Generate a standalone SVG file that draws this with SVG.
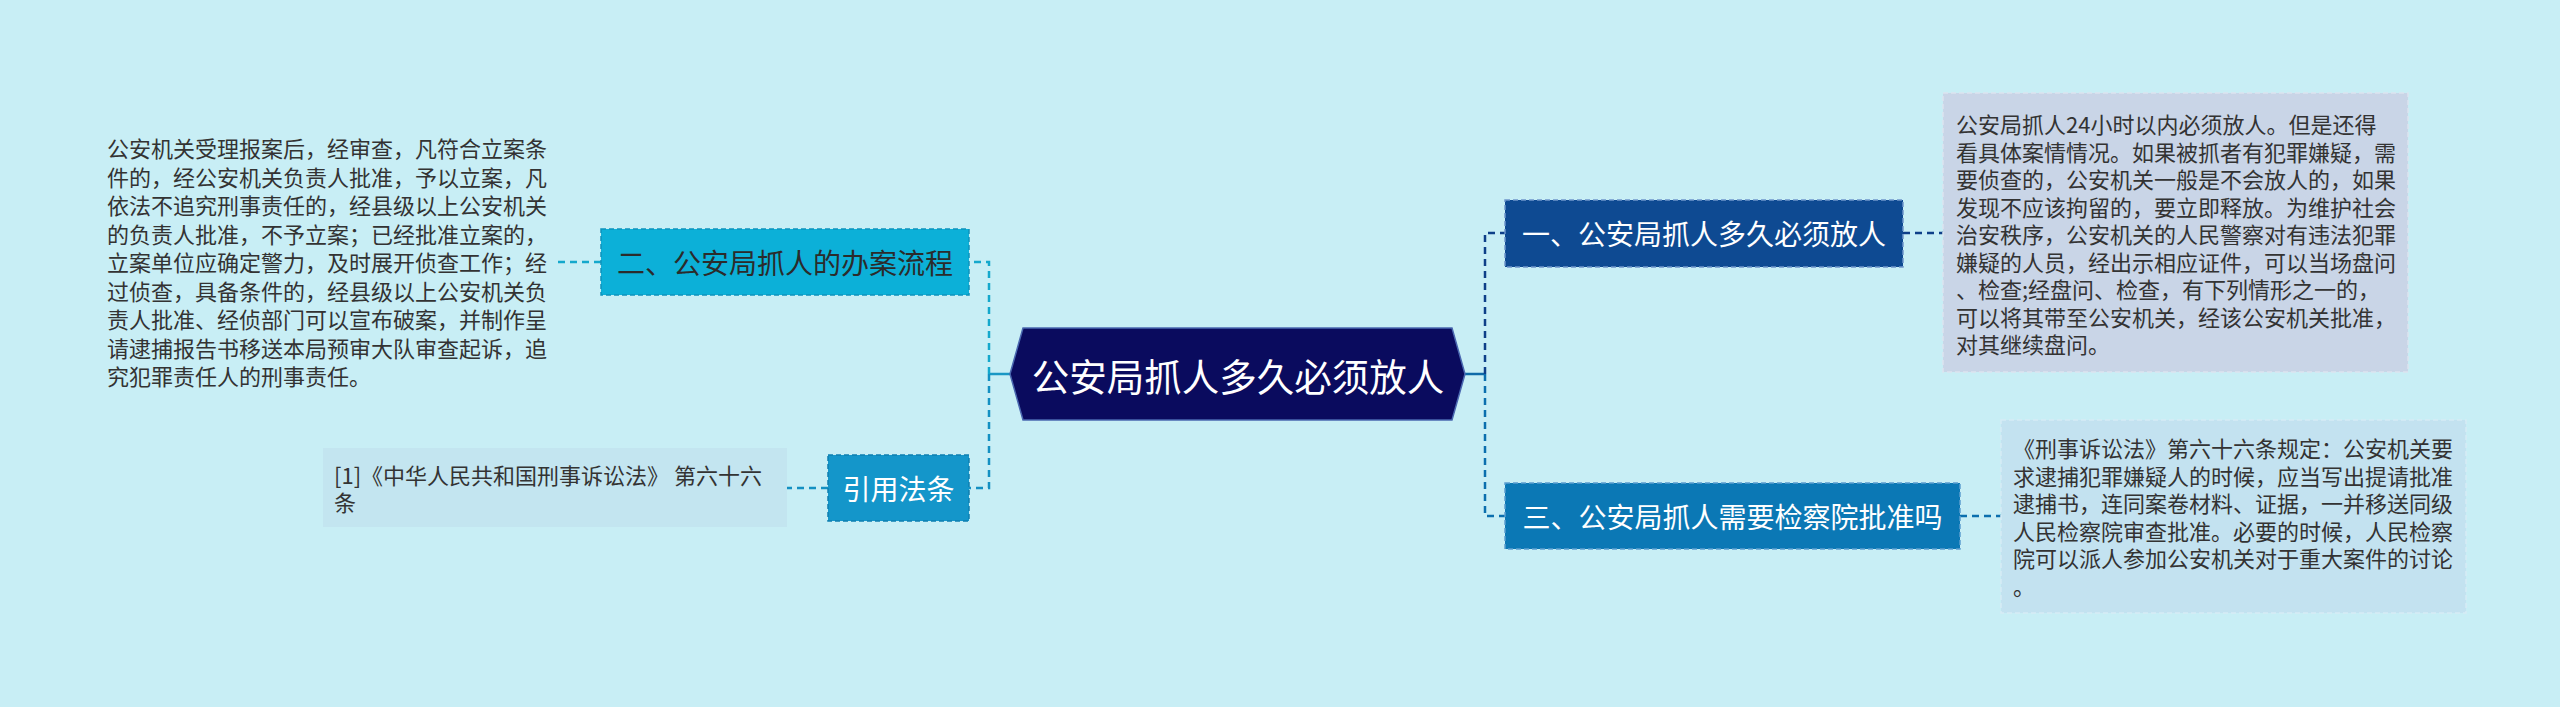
<svg xmlns="http://www.w3.org/2000/svg" width="2560" height="707" viewBox="0 0 2560 707">
<style>
.t{font-family:"Noto Sans CJK SC","Noto Sans",sans-serif;dominant-baseline:central}
.body{font-size:22px;fill:#333333}
.br{font-size:28px;text-anchor:middle}
.dash{fill:none;stroke-width:2.5;stroke-dasharray:7 5}
.solid{fill:none;stroke-width:2.5}
.bx{stroke-width:1.5;stroke-dasharray:5 3}
</style>
<rect x="0" y="0" width="2560" height="707" fill="#C8EEF5"/>
<g id="connectors">
<path class="solid" d="M1010,374 H989" stroke="#1A97C4"/>
<path class="dash" d="M989,374 V262 H969" stroke="#14A8CC"/>
<path class="dash" d="M989,374 V488 H969" stroke="#1390C2"/>
<path class="dash" d="M601,262 H556" stroke="#14A8CC"/>
<path class="dash" d="M828,488 H787" stroke="#1390C2"/>
<path class="solid" d="M1465,374 H1485" stroke="#0F6AA8"/>
<path class="dash" d="M1485,374 V233 H1505" stroke="#0E3F88"/>
<path class="dash" d="M1485,374 V516 H1505" stroke="#0B6FAE"/>
<path class="dash" d="M1903,233 H1943" stroke="#0E3F88"/>
<path class="dash" d="M1960,516 H2001" stroke="#0B6FAE"/>
</g>
<g id="root">
<polygon points="1010,374 1023,328 1452,328 1465,374 1452,420 1023,420" fill="#0A0B5E" stroke="#4A68B0" stroke-width="1.5"/>
<text class="t" x="1238" y="374" font-size="37.5" fill="#FFFFFF" text-anchor="middle">公安局抓人多久必须放人</text>
</g>
<g id="n2">
<rect class="bx" x="601" y="229" width="368" height="66" fill="#0CB0D8" stroke="#0E93BC"/>
<text class="t br" x="785" y="262" fill="#2B2B2B">二、公安局抓人的办案流程</text>
</g>
<g id="n2text">
<text class="t body" x="107" y="147">公安机关受理报案后，经审查，凡符合立案条</text>
<text class="t body" x="107" y="175.5">件的，经公安机关负责人批准，予以立案，凡</text>
<text class="t body" x="107" y="204">依法不追究刑事责任的，经县级以上公安机关</text>
<text class="t body" x="107" y="232.5">的负责人批准，不予立案；已经批准立案的，</text>
<text class="t body" x="107" y="261">立案单位应确定警力，及时展开侦查工作；经</text>
<text class="t body" x="107" y="289.5">过侦查，具备条件的，经县级以上公安机关负</text>
<text class="t body" x="107" y="318">责人批准、经侦部门可以宣布破案，并制作呈</text>
<text class="t body" x="107" y="346.5">请逮捕报告书移送本局预审大队审查起诉，追</text>
<text class="t body" x="107" y="375">究犯罪责任人的刑事责任。</text>
</g>
<g id="ref">
<rect class="bx" x="828" y="455" width="141" height="66" fill="#1496CA" stroke="#0E7FB0"/>
<text class="t br" x="898.5" y="488" fill="#FFFFFF">引用法条</text>
</g>
<g id="reftext">
<rect x="323" y="448" width="464" height="79" fill="#C3E5F0"/>
<text class="t body" x="334" y="474">[1]《中华人民共和国刑事诉讼法》 第六十六</text>
<text class="t body" x="334" y="501">条</text>
</g>
<g id="n1">
<rect class="bx" x="1505" y="200" width="398" height="67" fill="#0E4A92" stroke="#6F96CC"/>
<text class="t br" x="1704" y="233" fill="#FFFFFF">一、公安局抓人多久必须放人</text>
</g>
<g id="n1text">
<rect class="bx" x="1943" y="93" width="465" height="279" fill="#C9D5E7" stroke="#DCE4EF"/>
<text class="t body" x="1956" y="123">公安局抓人24小时以内必须放人。但是还得</text>
<text class="t body" x="1956" y="150.5">看具体案情情况。如果被抓者有犯罪嫌疑，需</text>
<text class="t body" x="1956" y="178">要侦查的，公安机关一般是不会放人的，如果</text>
<text class="t body" x="1956" y="205.5">发现不应该拘留的，要立即释放。为维护社会</text>
<text class="t body" x="1956" y="233">治安秩序，公安机关的人民警察对有违法犯罪</text>
<text class="t body" x="1956" y="260.5">嫌疑的人员，经出示相应证件，可以当场盘问</text>
<text class="t body" x="1956" y="288">、检查;经盘问、检查，有下列情形之一的，</text>
<text class="t body" x="1956" y="315.5">可以将其带至公安机关，经该公安机关批准，</text>
<text class="t body" x="1956" y="343">对其继续盘问。</text>
</g>
<g id="n3">
<rect class="bx" x="1505" y="483" width="455" height="66" fill="#0B78B5" stroke="#5C9FD0"/>
<text class="t br" x="1732.5" y="516" fill="#FFFFFF">三、公安局抓人需要检察院批准吗</text>
</g>
<g id="n3text">
<rect class="bx" x="2001" y="420" width="465" height="193" fill="#C3E2F0" stroke="#D6ECF5"/>
<text class="t body" x="2013" y="447.25">《刑事诉讼法》第六十六条规定：公安机关要</text>
<text class="t body" x="2013" y="474.75">求逮捕犯罪嫌疑人的时候，应当写出提请批准</text>
<text class="t body" x="2013" y="502.25">逮捕书，连同案卷材料、证据，一并移送同级</text>
<text class="t body" x="2013" y="529.75">人民检察院审查批准。必要的时候，人民检察</text>
<text class="t body" x="2013" y="557.25">院可以派人参加公安机关对于重大案件的讨论</text>
<text class="t body" x="2013" y="584.75">。</text>
</g>
</svg>
